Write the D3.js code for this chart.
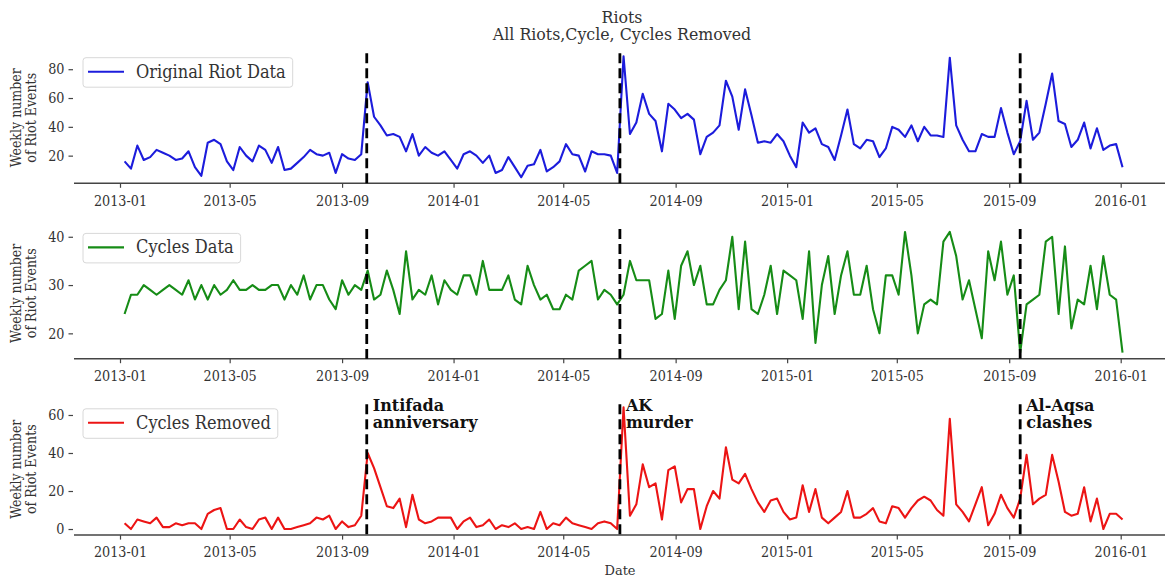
<!DOCTYPE html>
<html>
<head>
<meta charset="utf-8">
<script src="https://cdn.jsdelivr.net/npm/d3@7"></script>
<style>
  html, body { margin: 0; padding: 0; background: #fff; }
  svg { display: block; font-family: "DejaVu Serif", serif; }
  .cond { font-family: "DejaVu Serif Condensed", "DejaVu Serif", serif; font-stretch: condensed; }
</style>
</head>
<body>
<svg id="chart" width="1165" height="578"></svg>
<script>
// Weekly counts, first week starting 2013-01-06
const firstWeek = "2013-01-06";

const originalRiots = [
  16,11,27,17,19,24,22,20,17,18,23,12,6,29,31,28,16,10,26,20,16,27,24,15,26,10,11,15,19,24,21,20,22,8,21,18,17,21,
  71,47,41,34,35,33,23,35,20,26,22,20,
  23,17,11,21,23,20,15,20,8,10, 19,12,5,13,14,24,9,12,16,28, 21,20,9,23,21,21,20,8,89,35,
  43,63,49,44,23,56,52,46,49,45, 21,33,36,41,72,61,38,66,48,29, 30,29,35,30,20,12,
  43,36,39,28,26,17,34,52,28,25, 31,30,19,25,40,38,33,41,30,40, 34,34,33,88,41,31,23,23,35,33,
  33,53,36,21,30,58,31,36,56,77, 44,42,26,31,43,25,39,24,27,28, 12
];

const cyclesData = [
  24,28,28,30,29,28,29,30,29,28, 31,27,30,27,30,28,29,31,29,29, 30,29,29,30,30,27,30,28,32,27,
  30,30,27,25,31,28,30,29,33,27, 28,33,29,24,37,27,29,28,32,26,
  31,29,28,32,32,28,35,29,29,29, 32,27,26,34,30,27,28,25,25,28, 27,33,34,35,27,29,28,26,28,35,
  31,31,31,23,24,33,23,34,37,30, 34,26,26,29,31,40,25,39,25,24, 28,34,24,33,32,31,
  23,37,18,30,36,24,32,37,28,28, 34,25,20,32,32,28,41,32,20,26, 27,26,39,41,36,27,31,25,19,37,
  31,39,28,32,16,26,27,28,39,40, 24,38,21,27,26,34,25,36,28,27, 16
];

const cyclesRemoved = [
  3,0,5,4,3,6,1,1,3,2, 3,3,0,8,10,11,0,0,5,1, 0,5,6,0,6,0,0,1,2,3, 6,5,7,0,4,1,2,7,
  40,32,22,12,11,16,1,18,5,3,4,6,
  6,6,0,4,6,1,2,5,0,2, 1,3,0,1,0,9,0,3,2,6, 3,2,1,0,3,4,3,0,64,7,
  13,34,22,24,5,31,33,14,21,21, 0,12,20,16,43,26,24,29,21,14, 9,15,16,9,5,6,
  23,9,21,6,3,6,9,20,6,6, 8,11,4,3,12,11,6,11,15,17, 15,10,7,58,13,9,4,13,22,2,
  8,18,11,6,16,39,13,16,18,39, 25,9,7,8,22,4,16,0,8,8, 5
];

const seriesNames = ["Original Riot Data", "Cycles Data", "Cycles Removed"];
const yTickValues = [[20, 40, 60, 80], [20, 30, 40], [0, 20, 40, 60]];
const xTickLabels = ["2013-01","2013-05","2013-09","2014-01","2014-05","2014-09","2015-01","2015-05","2015-09","2016-01"];

const eventDates = ["2013-09-28", "2014-07-02", "2015-09-13"];
const eventLabels = [["Intifada", "anniversary"], ["AK", "murder"], ["Al-Aqsa", "clashes"]];

const titleLines = ["Riots", "All Riots,Cycle, Cycles Removed"];
const yLabelLines = ["Weekly number", "of Riot Events"];
const xLabel = "Date";

// ---- layout ----
const axLeft = 74, axRight = 1165;
const panelBox = [
  { top: 50.2, bottom: 183.3 },
  { top: 225.9, bottom: 358.7 },
  { top: 401.3, bottom: 535.1 }
];
const colors = ["#1c1cdc", "#168c16", "#ec1414"];
const textColor = "#333";
const tickColor = "#444";
const tickStretch = "scale(1,1.14)";

const parse = d3.utcParse("%Y-%m-%d");
const parseYM = d3.utcParse("%Y-%m");
const start = parse(firstWeek);
const dates = originalRiots.map((_, i) => d3.utcDay.offset(start, 7 * i));

const x = d3.scaleUtc()
  .domain([parse("2013-01-01"), parse("2016-01-01")])
  .range([120, 1120.7]);

const svg = d3.select("#chart");

// title
svg.append("g").selectAll("text").data(titleLines).join("text")
  .attr("x", 622).attr("y", (d, i) => 22.5 + i * 17.5)
  .attr("text-anchor", "middle")
  .attr("font-size", 15.8).attr("fill", textColor)
  .text(d => d);

const allSeries = [originalRiots, cyclesData, cyclesRemoved];

allSeries.forEach((values, p) => {
  const box = panelBox[p];
  const [lo, hi] = d3.extent(values);
  const pad = (hi - lo) * 0.05;
  const y = d3.scaleLinear().domain([lo - pad, hi + pad]).range([box.bottom, box.top]);
  const g = svg.append("g");

  // x axis (bottom spine only)
  const xAxis = d3.axisBottom(x)
    .tickValues(xTickLabels.map(parseYM))
    .tickFormat(d3.utcFormat("%Y-%m"))
    .tickSize(4.5).tickPadding(6);
  const xg = g.append("g").attr("transform", `translate(0,${box.bottom})`).call(xAxis);
  xg.select(".domain").remove();
  xg.selectAll(".tick line").attr("stroke", tickColor).attr("stroke-width", 1.2);
  xg.selectAll(".tick text").attr("font-family", "DejaVu Serif, serif")
    .attr("font-size", 12.8).attr("fill", textColor).attr("transform", tickStretch);
  g.append("line")
    .attr("x1", axLeft).attr("x2", axRight)
    .attr("y1", box.bottom).attr("y2", box.bottom)
    .attr("stroke", "#444").attr("stroke-width", 1.5);

  // y axis (ticks only, spine hidden)
  const yAxis = d3.axisLeft(y).tickValues(yTickValues[p]).tickSize(4.5).tickPadding(4);
  const yg = g.append("g").attr("transform", `translate(${axLeft - 1},0)`).call(yAxis);
  yg.select(".domain").remove();
  yg.selectAll(".tick line").attr("stroke", tickColor).attr("stroke-width", 1.2);
  yg.selectAll(".tick text").attr("font-family", "DejaVu Serif, serif")
    .attr("font-size", 12.8).attr("fill", textColor).attr("transform", tickStretch);

  // y label
  const cy = (box.top + box.bottom) / 2 + 1;
  g.append("g").selectAll("text").data(yLabelLines).join("text")
    .attr("class", "cond")
    .attr("transform", (d, i) => `translate(${21 + i * 15},${cy}) rotate(-90)`)
    .attr("text-anchor", "middle")
    .attr("font-size", 14).attr("fill", textColor)
    .text(d => d);

  // series line
  const line = d3.line().x((d, i) => x(dates[i])).y(d => y(d));
  g.append("path").datum(values)
    .attr("d", line)
    .attr("fill", "none")
    .attr("stroke", colors[p])
    .attr("stroke-width", 2.1)
    .attr("stroke-linejoin", "round");

  // event markers
  eventDates.forEach((ds, k) => {
    const ex = x(parse(ds));
    g.append("line")
      .attr("x1", ex).attr("x2", ex)
      .attr("y1", box.top + 3).attr("y2", box.bottom)
      .attr("stroke", "#000").attr("stroke-width", 2.8)
      .attr("stroke-dasharray", "10,5");
    if (p === 2) {
      g.append("g").selectAll("text").data(eventLabels[k]).join("text")
        .attr("x", ex + 6).attr("y", (d, i) => box.top + 9.5 + i * 17.5)
        .attr("font-size", 16).attr("font-weight", "bold").attr("fill", "#111")
        .text(d => d);
    }
  });

  // legend
  const lg = g.append("g");
  const boxTop = box.top + 7.5;
  const rect = lg.append("rect")
    .attr("x", 83).attr("y", boxTop).attr("height", 29.5)
    .attr("rx", 3).attr("fill", "#fff").attr("fill-opacity", 0.85)
    .attr("stroke", "#d8d8d8").attr("stroke-width", 1);
  lg.append("line")
    .attr("x1", 88).attr("x2", 124)
    .attr("y1", boxTop + 14).attr("y2", boxTop + 14)
    .attr("stroke", colors[p]).attr("stroke-width", 2.1);
  const t = lg.append("text")
    .attr("class", "cond")
    .attr("x", 136).attr("y", boxTop + 20)
    .attr("font-size", 18).attr("fill", textColor)
    .text(seriesNames[p]);
  const tw = t.node().getComputedTextLength();
  rect.attr("width", 136 + tw + 7 - 83);
});

// x label
svg.append("text")
  .attr("x", 620).attr("y", 575)
  .attr("text-anchor", "middle")
  .attr("font-size", 13).attr("fill", textColor)
  .text(xLabel);
</script>
</body>
</html>
